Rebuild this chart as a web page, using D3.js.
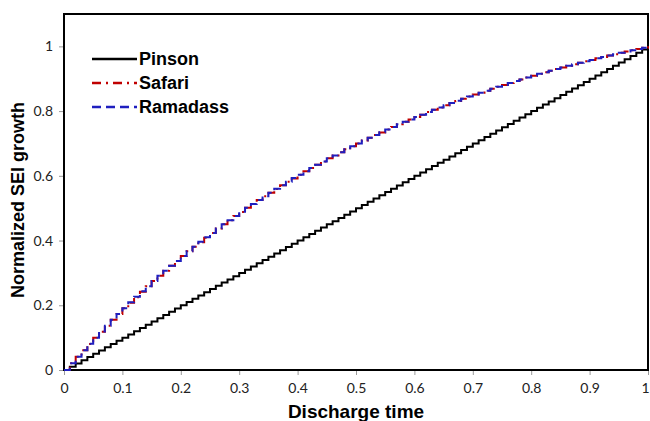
<!DOCTYPE html>
<html><head><meta charset="utf-8">
<script src="https://cdn.jsdelivr.net/npm/d3@7"></script>
<style>html,body{margin:0;padding:0;background:#fff;}</style>
</head><body>
<svg id="c" width="650" height="421"></svg>
<script>
const xTicks = [0,0.1,0.2,0.3,0.4,0.5,0.6,0.7,0.8,0.9,1];
const xTickLabels = ["0","0.1","0.2","0.3","0.4","0.5","0.6","0.7","0.8","0.9","1"];
const yTicks = [0,0.2,0.4,0.6,0.8,1];
const yTickLabels = ["0","0.2","0.4","0.6","0.8","1"];
const seriesNames = ["Pinson","Safari","Ramadass"];
const dischargeTime = [0,0.01,0.02,0.03,0.04,0.05,0.06,0.07,0.08,0.09,0.1,0.11,0.12,0.13,0.14,0.15,0.16,0.17,0.18,0.19,0.2,0.21,0.22,0.23,0.24,0.25,0.26,0.27,0.28,0.29,0.3,0.31,0.32,0.33,0.34,0.35,0.36,0.37,0.38,0.39,0.4,0.41,0.42,0.43,0.44,0.45,0.46,0.47,0.48,0.49,0.5,0.51,0.52,0.53,0.54,0.55,0.56,0.57,0.58,0.59,0.6,0.61,0.62,0.63,0.64,0.65,0.66,0.67,0.68,0.69,0.7,0.71,0.72,0.73,0.74,0.75,0.76,0.77,0.78,0.79,0.8,0.81,0.82,0.83,0.84,0.85,0.86,0.87,0.88,0.89,0.9,0.91,0.92,0.93,0.94,0.95,0.96,0.97,0.98,0.99,1];
const pinson = [0,0.01,0.02,0.03,0.04,0.05,0.06,0.07,0.08,0.09,0.1,0.11,0.12,0.13,0.14,0.15,0.16,0.17,0.18,0.19,0.2,0.21,0.22,0.23,0.24,0.25,0.26,0.27,0.28,0.29,0.3,0.31,0.32,0.33,0.34,0.35,0.36,0.37,0.38,0.39,0.4,0.41,0.42,0.43,0.44,0.45,0.46,0.47,0.48,0.49,0.5,0.51,0.52,0.53,0.54,0.55,0.56,0.57,0.58,0.59,0.6,0.61,0.62,0.63,0.64,0.65,0.66,0.67,0.68,0.69,0.7,0.71,0.72,0.73,0.74,0.75,0.76,0.77,0.78,0.79,0.8,0.81,0.82,0.83,0.84,0.85,0.86,0.87,0.88,0.89,0.9,0.91,0.92,0.93,0.94,0.95,0.96,0.97,0.98,0.99,1];
const safari = [0,0.021,0.041,0.061,0.080,0.100,0.118,0.137,0.155,0.173,0.191,0.208,0.225,0.242,0.259,0.275,0.291,0.307,0.322,0.337,0.352,0.367,0.381,0.395,0.409,0.423,0.437,0.450,0.463,0.476,0.488,0.501,0.513,0.525,0.537,0.548,0.559,0.571,0.582,0.592,0.603,0.614,0.624,0.634,0.644,0.654,0.663,0.673,0.682,0.691,0.700,0.709,0.718,0.726,0.734,0.743,0.751,0.759,0.767,0.774,0.782,0.789,0.797,0.804,0.811,0.818,0.825,0.831,0.838,0.845,0.851,0.857,0.863,0.869,0.875,0.881,0.887,0.893,0.898,0.904,0.909,0.915,0.920,0.925,0.930,0.935,0.940,0.945,0.949,0.954,0.958,0.963,0.967,0.972,0.976,0.980,0.984,0.988,0.992,0.996,1];
const ramadass = [0,0.021,0.041,0.061,0.081,0.100,0.119,0.137,0.155,0.173,0.191,0.209,0.226,0.243,0.259,0.275,0.291,0.307,0.322,0.337,0.352,0.367,0.381,0.396,0.410,0.423,0.437,0.450,0.463,0.476,0.489,0.501,0.513,0.525,0.537,0.548,0.560,0.571,0.582,0.593,0.603,0.614,0.624,0.634,0.644,0.654,0.663,0.673,0.682,0.691,0.700,0.709,0.718,0.726,0.735,0.743,0.751,0.759,0.767,0.774,0.782,0.789,0.797,0.804,0.811,0.818,0.825,0.832,0.838,0.845,0.851,0.857,0.863,0.869,0.875,0.881,0.887,0.893,0.898,0.904,0.909,0.915,0.920,0.925,0.930,0.935,0.940,0.945,0.949,0.954,0.958,0.963,0.967,0.972,0.976,0.980,0.984,0.988,0.992,0.996,1];

const svg = d3.select("#c");
const mLeft = 64, mRight = 648, mTop = 14, mBottom = 370;
const x = d3.scaleLinear().domain([0,1]).range([mLeft,mRight]);
const y = d3.scaleLinear().domain([0,1.1]).range([mBottom,mTop]);

// Axes
const xAxis = d3.axisBottom(x).tickValues(xTicks).tickFormat((d,i)=>xTickLabels[i]).tickSize(5).tickSizeOuter(0);
const gx = svg.append("g").attr("transform",`translate(0,${mBottom})`).call(xAxis);
gx.select(".domain").remove();
gx.selectAll(".tick line").attr("stroke","#999");
gx.selectAll(".tick text").attr("dy","0").attr("y",23)
  .style("font-family","Lato, 'Open Sans', sans-serif").style("font-size","14px").attr("fill","#222");
gx.selectAll(".tick text").filter(d=>d===1).attr("text-anchor","end").attr("x",1);

const yAxis = d3.axisLeft(y).tickValues(yTicks).tickFormat((d,i)=>yTickLabels[i]).tickSize(5).tickSizeOuter(0);
const gy = svg.append("g").attr("transform",`translate(${mLeft},0)`).call(yAxis);
gy.select(".domain").remove();
gy.selectAll(".tick line").attr("stroke","#999");
gy.selectAll(".tick text").attr("x",-11)
  .style("font-family","Lato, 'Open Sans', sans-serif").style("font-size","14px").attr("fill","#222");

// Frame
svg.append("rect").attr("x",mLeft).attr("y",mTop).attr("width",mRight-mLeft).attr("height",mBottom-mTop)
  .attr("fill","none").attr("stroke","#000").attr("stroke-width",2);

// Lines
const mk = vals => d3.line().x((d,i)=>x(dischargeTime[i])).y(d=>y(d)).curve(d3.curveStepAfter)(vals);
svg.append("path").attr("d",mk(pinson)).attr("fill","none").attr("stroke","#000").attr("stroke-width",2);
svg.append("path").attr("d",mk(safari)).attr("fill","none").attr("stroke","#c00000").attr("stroke-width",2)
  .attr("stroke-dasharray","9,4,2,4");
svg.append("path").attr("d",mk(ramadass)).attr("fill","none").attr("stroke","#1f1fbf").attr("stroke-width",2)
  .attr("stroke-dasharray","8,5");

// Legend
const legend = [
  {name:seriesNames[0], color:"#000", dash:null, y:59},
  {name:seriesNames[1], color:"#c00000", dash:"9,5,2,5", y:83},
  {name:seriesNames[2], color:"#1f1fbf", dash:"9,5", y:107}
];
legend.forEach(l=>{
  svg.append("line").attr("x1",92).attr("x2",137).attr("y1",l.y).attr("y2",l.y)
    .attr("stroke",l.color).attr("stroke-width",2.5).attr("stroke-dasharray",l.dash);
  svg.append("text").attr("x",139).attr("y",l.y+6).text(l.name)
    .style("font-family","'Liberation Sans', Arial, sans-serif").style("font-weight","bold").style("font-size","18px");
});

// Titles
svg.append("text").attr("x",356).attr("y",418).attr("text-anchor","middle").text("Discharge time")
  .style("font-family","'Liberation Sans', Arial, sans-serif").style("font-weight","bold").style("font-size","19px");
svg.append("text").attr("transform","translate(24,200) rotate(-90)").attr("text-anchor","middle").text("Normalized SEI growth")
  .style("font-family","'Liberation Sans', Arial, sans-serif").style("font-weight","bold").style("font-size","18px");
</script>
</body></html>
